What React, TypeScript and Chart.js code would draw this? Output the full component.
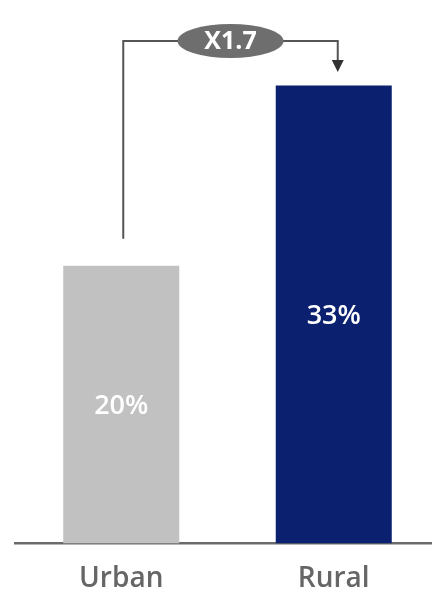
import React, { useEffect, useRef } from "react";
import { Chart, registerables } from "chart.js";

Chart.register(...registerables);

const categories = ["Urban", "Rural"];
const values = [20, 33];
const valueLabels = ["20%", "33%"];
const barColors = ["#c1c1c1", "#0b206e"];
const ratioLabel = "X1.7";

const annotationPlugin = {
  id: "annot",
  afterDatasetsDraw(chart: any) {
    const ctx = chart.ctx;
    const meta = chart.getDatasetMeta(0);
    const b0 = meta.data[0];
    const b1 = meta.data[1];
    ctx.save();
    // value labels
    ctx.fillStyle = "#ffffff";
    ctx.font = "600 27px 'Open Sans'";
    ctx.textAlign = "center";
    ctx.textBaseline = "middle";
    meta.data.forEach((bar: any, i: number) => {
      const mid = (bar.y + bar.base) / 2;
      ctx.fillText(valueLabels[i], bar.x, mid + 2);
    });
    // connector
    const lineY = 41;
    const x0 = b0.x + 2;
    const x1 = b1.x + 4;
    ctx.strokeStyle = "#555555";
    ctx.lineWidth = 2;
    ctx.beginPath();
    ctx.moveTo(x0, b0.y - 27);
    ctx.lineTo(x0, lineY);
    ctx.lineTo(x1, lineY);
    ctx.lineTo(x1, 60);
    ctx.stroke();
    ctx.fillStyle = "#333333";
    ctx.beginPath();
    ctx.moveTo(x1 - 6, 60);
    ctx.lineTo(x1 + 6, 60);
    ctx.lineTo(x1, 72);
    ctx.closePath();
    ctx.fill();
    // ellipse
    const cx = (x0 + x1) / 2;
    ctx.fillStyle = "#6e6e6e";
    ctx.beginPath();
    ctx.ellipse(cx, lineY, 53, 17, 0, 0, Math.PI * 2);
    ctx.fill();
    ctx.fillStyle = "#ffffff";
    ctx.font = "bold 25px 'Open Sans'";
    ctx.fillText(ratioLabel, cx, lineY + 1);
    ctx.restore();
  },
};

export default function App() {
  const ref = useRef<HTMLCanvasElement>(null);
  useEffect(() => {
    const chart = new Chart(ref.current!, {
      type: "bar",
      data: {
        labels: categories,
        datasets: [
          {
            data: values,
            backgroundColor: barColors,
            barPercentage: 0.546,
            categoryPercentage: 1,
          },
        ],
      },
      options: {
        animation: false,
        responsive: false,
        maintainAspectRatio: false,
        layout: { padding: { top: 16, left: 15, right: 0, bottom: 0 } },
        plugins: { legend: { display: false }, tooltip: { enabled: false } },
        scales: {
          y: { display: false, min: 0, max: 38 },
          x: {
            grid: { display: false },
            border: { display: true, color: "#6a6a6a", width: 2.5 },
            ticks: {
              color: "#666666",
              font: { family: "'Open Sans'", size: 28, weight: "600" },
              padding: 11,
            },
          },
        },
      },
      plugins: [annotationPlugin],
    });
    return () => chart.destroy();
  }, []);
  return (
    <div style={{ position: "fixed", left: 0, top: 0, width: 432, height: 590, overflow: "hidden", background: "#fff" }}>
      <canvas ref={ref} width={440} height={607} style={{ width: 440, height: 607 }} />
    </div>
  );
}
